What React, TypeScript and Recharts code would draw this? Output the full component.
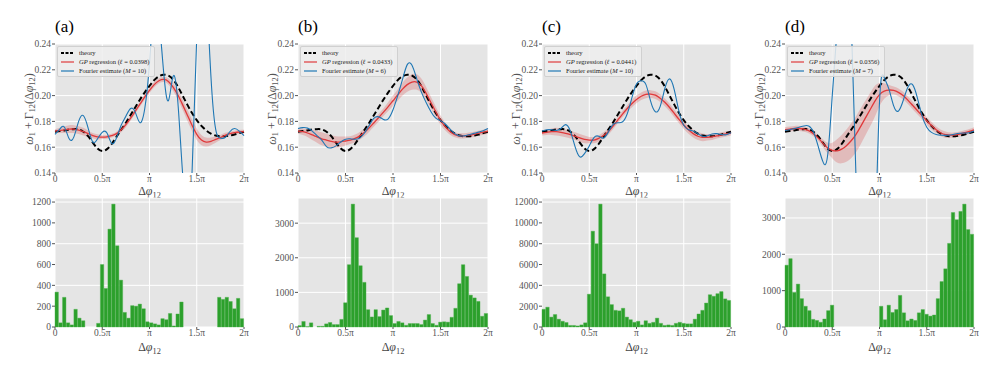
import React from 'react'
import { Area, Bar, BarChart, CartesianGrid, ComposedChart, Line, XAxis, YAxis } from 'recharts'

// phase grid in units of pi (0 .. 2pi)
const phase = [0, 0.05, 0.1, 0.15, 0.2, 0.25, 0.3, 0.35, 0.4, 0.45, 0.5, 0.55, 0.6, 0.65, 0.7, 0.75, 0.8, 0.85, 0.9, 0.95, 1, 1.05, 1.1, 1.15, 1.2, 1.25, 1.3, 1.35, 1.4, 1.45, 1.5, 1.55, 1.6, 1.65, 1.7, 1.75, 1.8, 1.85, 1.9, 1.95, 2]

const theory = [0.172, 0.1725, 0.173, 0.1737, 0.174, 0.1738, 0.172, 0.1685, 0.1635, 0.159, 0.157, 0.1585, 0.1625, 0.168, 0.1735, 0.179, 0.185, 0.191, 0.197, 0.2025, 0.2075, 0.212, 0.215, 0.2162, 0.2155, 0.2125, 0.207, 0.2, 0.193, 0.1865, 0.181, 0.1765, 0.173, 0.1705, 0.169, 0.1685, 0.1685, 0.169, 0.1698, 0.171, 0.172]

const gpA = [0.1725, 0.173, 0.1735, 0.174, 0.174, 0.1732, 0.172, 0.1705, 0.169, 0.168, 0.1678, 0.168, 0.169, 0.1705, 0.1735, 0.1775, 0.1825, 0.188, 0.1935, 0.199, 0.204, 0.2085, 0.2115, 0.2125, 0.211, 0.2065, 0.2005, 0.193, 0.185, 0.177, 0.17, 0.1655, 0.164, 0.1645, 0.166, 0.1675, 0.1692, 0.1705, 0.1713, 0.1718, 0.172]
const gpLowA = [0.171, 0.171, 0.171, 0.171, 0.171, 0.1702, 0.169, 0.168, 0.167, 0.166, 0.1663, 0.1665, 0.1675, 0.169, 0.1715, 0.1755, 0.1805, 0.186, 0.1915, 0.197, 0.202, 0.2065, 0.2095, 0.2105, 0.2085, 0.2035, 0.197, 0.189, 0.1805, 0.1725, 0.1655, 0.1615, 0.1605, 0.1615, 0.1635, 0.1655, 0.1672, 0.169, 0.1698, 0.1703, 0.1705]
const gpHighA = [0.174, 0.175, 0.176, 0.177, 0.177, 0.1762, 0.175, 0.173, 0.171, 0.17, 0.1693, 0.1695, 0.1705, 0.172, 0.1755, 0.1795, 0.1845, 0.19, 0.1955, 0.201, 0.206, 0.2105, 0.2135, 0.2145, 0.2135, 0.2095, 0.204, 0.197, 0.1895, 0.1815, 0.1745, 0.1695, 0.1675, 0.1675, 0.1685, 0.1695, 0.1712, 0.172, 0.1728, 0.1733, 0.1735]
const fourierA = [0.17, 0.174, 0.1755, 0.1665, 0.168, 0.18, 0.1845, 0.175, 0.164, 0.1665, 0.1715, 0.171, 0.163, 0.167, 0.177, 0.184, 0.19, 0.187, 0.179, 0.19, 0.225, 0.27, 0.26, 0.218, 0.196, 0.215, 0.195, 0.14, 0.11, 0.14, 0.245, 0.29, 0.28, 0.215, 0.174, 0.167, 0.1675, 0.172, 0.1745, 0.1725, 0.169]

const gpB = [0.1725, 0.172, 0.171, 0.1695, 0.168, 0.1665, 0.1655, 0.1645, 0.164, 0.1642, 0.1648, 0.1655, 0.1668, 0.1688, 0.1715, 0.175, 0.179, 0.183, 0.1872, 0.1915, 0.196, 0.2005, 0.205, 0.2085, 0.2105, 0.2105, 0.2075, 0.2015, 0.1945, 0.1875, 0.181, 0.176, 0.1722, 0.1698, 0.1688, 0.1688, 0.1693, 0.17, 0.1708, 0.1716, 0.1725]
const gpLowB = [0.1705, 0.1695, 0.168, 0.1655, 0.1635, 0.1615, 0.1605, 0.1595, 0.1595, 0.1602, 0.1613, 0.1625, 0.1638, 0.1658, 0.1685, 0.172, 0.176, 0.18, 0.1842, 0.188, 0.192, 0.196, 0.2, 0.203, 0.2045, 0.2045, 0.202, 0.1965, 0.19, 0.1835, 0.1775, 0.173, 0.1697, 0.1678, 0.1668, 0.1668, 0.1673, 0.168, 0.1688, 0.1696, 0.1705]
const gpHighB = [0.1745, 0.1745, 0.174, 0.1735, 0.1725, 0.1715, 0.1705, 0.1695, 0.1685, 0.1682, 0.1683, 0.1685, 0.1698, 0.1718, 0.1745, 0.178, 0.182, 0.186, 0.1902, 0.195, 0.2, 0.205, 0.21, 0.214, 0.2165, 0.2165, 0.213, 0.2065, 0.199, 0.1915, 0.1845, 0.179, 0.1747, 0.1718, 0.1708, 0.1708, 0.1713, 0.172, 0.1728, 0.1736, 0.1745]
const fourierB = [0.1745, 0.1752, 0.1748, 0.1725, 0.169, 0.1655, 0.1605, 0.1595, 0.161, 0.164, 0.1662, 0.1665, 0.1662, 0.1672, 0.171, 0.177, 0.1825, 0.1835, 0.1815, 0.182, 0.189, 0.2, 0.2125, 0.224, 0.2235, 0.213, 0.2025, 0.1945, 0.1875, 0.1825, 0.1805, 0.178, 0.174, 0.1705, 0.1688, 0.1688, 0.1697, 0.1707, 0.1717, 0.1728, 0.1745]

const gpC = [0.171, 0.1715, 0.172, 0.172, 0.1715, 0.1708, 0.1698, 0.1685, 0.1672, 0.166, 0.1655, 0.1655, 0.1668, 0.169, 0.172, 0.1762, 0.1808, 0.1855, 0.1898, 0.1937, 0.197, 0.1995, 0.201, 0.2012, 0.2003, 0.198, 0.1948, 0.1908, 0.1862, 0.1815, 0.1772, 0.1735, 0.1705, 0.1685, 0.1677, 0.1677, 0.168, 0.1687, 0.1695, 0.1703, 0.171]
const gpLowC = [0.169, 0.1695, 0.1695, 0.169, 0.1685, 0.1678, 0.1668, 0.1655, 0.1642, 0.163, 0.163, 0.163, 0.1643, 0.1665, 0.1695, 0.1737, 0.1783, 0.183, 0.1873, 0.1907, 0.194, 0.1965, 0.198, 0.1982, 0.1973, 0.195, 0.1918, 0.1878, 0.1832, 0.1785, 0.1742, 0.1705, 0.1675, 0.1655, 0.1647, 0.1652, 0.1655, 0.1667, 0.1675, 0.1683, 0.169]
const gpHighC = [0.173, 0.1735, 0.1745, 0.175, 0.1745, 0.1738, 0.1728, 0.1715, 0.1702, 0.169, 0.168, 0.168, 0.1693, 0.1715, 0.1745, 0.1787, 0.1833, 0.188, 0.1923, 0.1967, 0.2, 0.2025, 0.204, 0.2042, 0.2033, 0.201, 0.1978, 0.1938, 0.1892, 0.1845, 0.1802, 0.1765, 0.1735, 0.1715, 0.1707, 0.1702, 0.1705, 0.1707, 0.1715, 0.1723, 0.173]
const fourierC = [0.1725, 0.1735, 0.1735, 0.173, 0.1745, 0.1775, 0.1725, 0.1605, 0.1525, 0.155, 0.161, 0.1675, 0.1685, 0.167, 0.1715, 0.1775, 0.179, 0.1795, 0.1855, 0.198, 0.209, 0.2115, 0.2085, 0.1955, 0.1875, 0.1915, 0.2055, 0.213, 0.2045, 0.1875, 0.177, 0.1735, 0.1725, 0.1705, 0.1685, 0.1688, 0.1702, 0.1705, 0.1698, 0.1697, 0.1712]

const gpD = [0.1735, 0.174, 0.1745, 0.1745, 0.174, 0.1728, 0.1705, 0.1672, 0.1632, 0.1595, 0.1575, 0.1572, 0.1585, 0.1612, 0.165, 0.1698, 0.176, 0.1825, 0.189, 0.1955, 0.2008, 0.2035, 0.2043, 0.204, 0.2025, 0.2, 0.1965, 0.1925, 0.1885, 0.1845, 0.1805, 0.1768, 0.1735, 0.171, 0.1697, 0.1693, 0.1695, 0.1702, 0.1712, 0.1722, 0.1735]
const gpLowD = [0.1715, 0.172, 0.1725, 0.1725, 0.172, 0.1708, 0.1685, 0.1652, 0.1602, 0.1555, 0.1515, 0.1482, 0.1475, 0.1487, 0.1515, 0.1558, 0.162, 0.169, 0.176, 0.1835, 0.1918, 0.1975, 0.2003, 0.201, 0.1995, 0.197, 0.1935, 0.1895, 0.1855, 0.1815, 0.1775, 0.1738, 0.171, 0.1685, 0.1672, 0.1673, 0.1675, 0.1682, 0.1692, 0.1702, 0.1715]
const gpHighD = [0.1755, 0.176, 0.1765, 0.1765, 0.176, 0.1748, 0.1725, 0.1692, 0.1662, 0.1635, 0.1635, 0.1662, 0.1695, 0.1737, 0.1785, 0.1838, 0.19, 0.196, 0.202, 0.2075, 0.2098, 0.2095, 0.2083, 0.207, 0.2055, 0.203, 0.1995, 0.1955, 0.1915, 0.1875, 0.1835, 0.1798, 0.176, 0.1735, 0.1722, 0.1713, 0.1715, 0.1722, 0.1732, 0.1742, 0.1755]
const fourierD = [0.173, 0.1735, 0.1745, 0.1755, 0.1765, 0.1765, 0.172, 0.161, 0.149, 0.153, 0.2, 0.25, 0.29, 0.31, 0.26, 0.14, 0.06, 0.03, 0.03, 0.08, 0.195, 0.214, 0.205, 0.192, 0.188, 0.196, 0.2065, 0.2085, 0.1985, 0.1845, 0.1755, 0.1715, 0.1698, 0.1693, 0.1692, 0.1695, 0.1702, 0.1708, 0.171, 0.1712, 0.1725]

// histogram bin centres in units of pi (50 bins)
const binCenters = [0.02, 0.06, 0.1, 0.14, 0.18, 0.22, 0.26, 0.3, 0.34, 0.38, 0.42, 0.46, 0.5, 0.54, 0.58, 0.62, 0.66, 0.7, 0.74, 0.78, 0.82, 0.86, 0.9, 0.94, 0.98, 1.02, 1.06, 1.1, 1.14, 1.18, 1.22, 1.26, 1.3, 1.34, 1.38, 1.42, 1.46, 1.5, 1.54, 1.58, 1.62, 1.66, 1.7, 1.74, 1.78, 1.82, 1.86, 1.9, 1.94, 1.98]
const countsA = [335, 40, 285, 40, 20, 170, 85, 60, 0, 0, 0, 35, 600, 370, 940, 1180, 780, 450, 140, 85, 205, 200, 220, 175, 50, 40, 30, 20, 80, 70, 130, 10, 125, 240, 0, 0, 0, 0, 0, 0, 0, 0, 0, 285, 265, 285, 245, 175, 275, 80]
const countsB = [40, 160, 10, 120, 0, 20, 20, 90, 130, 70, 70, 220, 700, 1800, 3550, 2580, 1770, 1290, 500, 290, 500, 300, 490, 550, 330, 100, 160, 120, 50, 100, 100, 100, 70, 200, 360, 100, 50, 140, 150, 140, 280, 540, 1250, 1800, 1460, 920, 840, 740, 310, 390]
const countsC = [1700, 1900, 950, 1200, 750, 550, 430, 150, 150, 100, 200, 400, 3150, 9200, 8000, 11800, 5100, 2900, 2150, 1600, 1550, 1800, 950, 700, 450, 550, 200, 600, 350, 450, 850, 350, 150, 200, 150, 350, 450, 350, 300, 300, 750, 1250, 1600, 2300, 3100, 2950, 3200, 3400, 2700, 2550]
const countsD = [1700, 1880, 950, 1180, 780, 570, 450, 210, 180, 130, 220, 450, 600, 0, 0, 0, 0, 0, 0, 0, 0, 0, 0, 0, 0, 570, 200, 600, 400, 480, 870, 390, 170, 220, 180, 390, 480, 350, 300, 330, 780, 1250, 1600, 2300, 3150, 2950, 3180, 3380, 2680, 2550]

const phaseTicks = [0, 0.5, 1, 1.5, 2]
const phaseTickLabels = ['0', '0.5π', 'π', '1.5π', '2π']
const freqTicks = [0.14, 0.16, 0.18, 0.2, 0.22, 0.24]
const countTicksA = [0, 200, 400, 600, 800, 1000, 1200]
const countTicksB = [0, 1000, 2000, 3000]
const countTicksC = [0, 2000, 4000, 6000, 8000, 10000, 12000]
const countTicksD = [0, 1000, 2000, 3000]
const panelLabels = ['(a)', '(b)', '(c)', '(d)']
const lengthScales = ['0.0398', '0.0433', '0.0441', '0.0356']
const fourierOrders = ['10', '6', '10', '7']

// layout
const FONT = 'Liberation Serif, Times New Roman, DejaVu Serif, serif'
const TICK = '#555555'
const COLS = [[55, 244], [298, 488], [542, 731], [785, 974]]
const TOP_Y0 = 44
const TOP_Y1 = 173
const BOT_Y0 = 198
const BOT_Y1 = 327
const AXIS_W = 45
const PAD = 6
const XAXIS_H = 20

const panels = [
  { gp: gpA, lo: gpLowA, hi: gpHighA, fourier: fourierA, counts: countsA, countTicks: countTicksA, countMax: 1239 },
  { gp: gpB, lo: gpLowB, hi: gpHighB, fourier: fourierB, counts: countsB, countTicks: countTicksB, countMax: 3727 },
  { gp: gpC, lo: gpLowC, hi: gpHighC, fourier: fourierC, counts: countsC, countTicks: countTicksC, countMax: 12390 },
  { gp: gpD, lo: gpLowD, hi: gpHighD, fourier: fourierD, counts: countsD, countTicks: countTicksD, countMax: 3549 },
]

const tickStyle = { fontSize: 9.5, fill: TICK, fontFamily: FONT }
const fmtPhase = (v: number) => phaseTickLabels[phaseTicks.indexOf(v)] ?? ''

function Sub({ children }: { children: React.ReactNode }) {
  return <span style={{ fontSize: '0.7em', verticalAlign: '-0.3em', lineHeight: 0 }}>{children}</span>
}

function PhaseLabel({ cx, cy }: { cx: number; cy: number }) {
  return (
    <div style={{ position: 'absolute', left: cx, top: cy, transform: 'translate(-50%, -50%)', fontFamily: FONT, fontSize: 12, lineHeight: '12px', color: '#444', whiteSpace: 'nowrap' }}>
      Δ<i>φ</i><Sub>12</Sub>
    </div>
  )
}

function LegendRow({ color, dash, children }: { color: string; dash?: string; children: React.ReactNode }) {
  return (
    <div style={{ display: 'flex', alignItems: 'center', height: 9 }}>
      <svg width={13} height={4} style={{ flex: 'none' }}>
        <line x1={0} y1={2} x2={13} y2={2} stroke={color} strokeWidth={dash ? 1.8 : 1.2} strokeDasharray={dash} />
      </svg>
      <span style={{ marginLeft: 5, whiteSpace: 'nowrap' }}>{children}</span>
    </div>
  )
}

function TopPanel({ idx }: { idx: number }) {
  const [l, r] = COLS[idx]
  const p = panels[idx]
  const rows = phase.map((x, i) => ({ x, theory: theory[i], gp: p.gp[i], band: [p.lo[i], p.hi[i]], fourier: p.fourier[i] }))
  return (
    <>
      <div style={{ position: 'absolute', left: l - AXIS_W, top: TOP_Y0 - PAD }}>
        <ComposedChart width={r - l + AXIS_W + PAD} height={TOP_Y1 - TOP_Y0 + PAD + XAXIS_H} data={rows}
          margin={{ top: PAD, right: PAD, bottom: 0, left: 0 }}>
          <CartesianGrid fill="#E5E5E5" stroke="#FFFFFF" strokeWidth={1} />
          <XAxis dataKey="x" type="number" domain={[0, 2]} ticks={phaseTicks} tickFormatter={fmtPhase}
            axisLine={false} tickLine={{ stroke: TICK }} tickSize={2} tickMargin={0} height={XAXIS_H} tick={tickStyle} />
          <YAxis type="number" domain={[0.14, 0.24]} allowDataOverflow ticks={freqTicks} tickFormatter={(v: number) => v.toFixed(2)}
            axisLine={false} tickLine={{ stroke: TICK }} tickSize={3} tickMargin={1} width={AXIS_W} tick={tickStyle} />
          <Area dataKey="band" type="natural" stroke="none" fill="#d62728" fillOpacity={0.22} isAnimationActive={false} />
          <Line dataKey="theory" type="natural" stroke="#000000" strokeWidth={2} strokeDasharray="5.5 3" dot={false} isAnimationActive={false} />
          <Line dataKey="gp" type="natural" stroke="#e0393b" strokeWidth={1.3} dot={false} isAnimationActive={false} />
          <Line dataKey="fourier" type="natural" stroke="#1f77b4" strokeWidth={1.1} dot={false} isAnimationActive={false} />
        </ComposedChart>
      </div>
      <div style={{ position: 'absolute', left: l + 2, top: TOP_Y0 + 2, background: 'rgba(238,238,238,0.85)', border: '1px solid #d0d0d0', borderRadius: 2, padding: '1px 4px 1px 3px', fontFamily: FONT, fontSize: 6.5, color: '#222' }}>
        <LegendRow color="#000000" dash="3 1.5">theory</LegendRow>
        <LegendRow color="#e0393b"><i>GP</i> regression (<i>ℓ</i> = {lengthScales[idx]})</LegendRow>
        <LegendRow color="#1f77b4">Fourier estimate (<i>M</i> = {fourierOrders[idx]})</LegendRow>
      </div>
      <div style={{ position: 'absolute', left: l, top: 27, transform: 'translateY(-50%)', fontFamily: FONT, fontSize: 17, color: '#000' }}>
        {panelLabels[idx]}
      </div>
      <div style={{ position: 'absolute', left: l - 26, top: (TOP_Y0 + TOP_Y1) / 2, transform: 'translate(-50%, -50%) rotate(-90deg)', fontFamily: FONT, fontSize: 12, lineHeight: '13px', color: '#555', whiteSpace: 'nowrap' }}>
        <i>ω</i><Sub>1</Sub> + Γ<Sub>12</Sub>(Δ<i>φ</i><Sub>12</Sub>)
      </div>
      <PhaseLabel cx={(l + r) / 2} cy={191} />
    </>
  )
}

function BottomPanel({ idx }: { idx: number }) {
  const [l, r] = COLS[idx]
  const p = panels[idx]
  const rows = binCenters.map((x, i) => ({ x, n: p.counts[i] }))
  return (
    <>
      <div style={{ position: 'absolute', left: l - AXIS_W, top: BOT_Y0 - PAD }}>
        <BarChart width={r - l + AXIS_W + PAD} height={BOT_Y1 - BOT_Y0 + PAD + XAXIS_H} data={rows}
          margin={{ top: PAD, right: PAD, bottom: 0, left: 0 }} barCategoryGap={0} barGap={0}>
          <CartesianGrid fill="#E5E5E5" stroke="#FFFFFF" strokeWidth={1} />
          <XAxis dataKey="x" type="number" domain={[0, 2]} ticks={phaseTicks} tickFormatter={fmtPhase}
            axisLine={false} tickLine={{ stroke: TICK }} tickSize={2} tickMargin={0} height={XAXIS_H} tick={tickStyle} />
          <YAxis type="number" domain={[0, p.countMax]} ticks={p.countTicks}
            axisLine={false} tickLine={{ stroke: TICK }} tickSize={3} tickMargin={1} width={AXIS_W} tick={tickStyle} />
          <Bar dataKey="n" fill="#2ca02c" stroke="#48b048" strokeWidth={0.4} barSize={(r - l) / 50} isAnimationActive={false} />
        </BarChart>
      </div>
      <PhaseLabel cx={(l + r) / 2} cy={347} />
    </>
  )
}

export default function App() {
  return (
    <div style={{ position: 'absolute', left: 0, top: 0, width: 996, height: 368, background: '#ffffff', overflow: 'hidden' }}>
      {panels.map((_, i) => <TopPanel key={'t' + i} idx={i} />)}
      {panels.map((_, i) => <BottomPanel key={'b' + i} idx={i} />)}
    </div>
  )
}
